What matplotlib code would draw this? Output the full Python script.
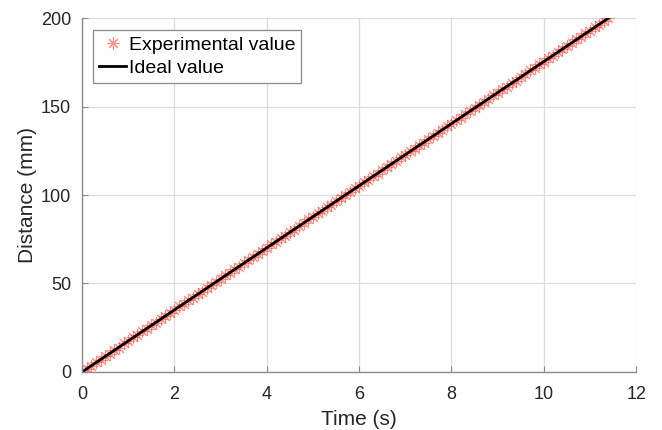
import numpy as np
import matplotlib
matplotlib.use('Agg')
from matplotlib import pyplot as plt

plt.rcParams['font.family'] = ['Liberation Sans', 'DejaVu Sans']

# measured samples
time_s = [0.0, 0.1, 0.2, 0.3, 0.4, 0.5, 0.6, 0.7, 0.8, 0.9,
          1.0, 1.1, 1.2, 1.3, 1.4, 1.5, 1.6, 1.7, 1.8, 1.9,
          2.0, 2.1, 2.2, 2.3, 2.4, 2.5, 2.6, 2.7, 2.8, 2.9,
          3.0, 3.1, 3.2, 3.3, 3.4, 3.5, 3.6, 3.7, 3.8, 3.9,
          4.0, 4.1, 4.2, 4.3, 4.4, 4.5, 4.6, 4.7, 4.8, 4.9,
          5.0, 5.1, 5.2, 5.3, 5.4, 5.5, 5.6, 5.7, 5.8, 5.9,
          6.0, 6.1, 6.2, 6.3, 6.4, 6.5, 6.6, 6.7, 6.8, 6.9,
          7.0, 7.1, 7.2, 7.3, 7.4, 7.5, 7.6, 7.7, 7.8, 7.9,
          8.0, 8.1, 8.2, 8.3, 8.4, 8.5, 8.6, 8.7, 8.8, 8.9,
          9.0, 9.1, 9.2, 9.3, 9.4, 9.5, 9.6, 9.7, 9.8, 9.9,
          10.0, 10.1, 10.2, 10.3, 10.4, 10.5, 10.6, 10.7, 10.8, 10.9,
          11.0, 11.1, 11.2, 11.3, 11.4]
dist_mm = [0.0, 1.9, 3.3, 5.5, 6.8, 9.0, 10.3, 12.6, 13.8, 16.1,
           17.3, 19.5, 20.9, 23.0, 24.4, 26.5, 27.9, 30.0, 31.4, 33.5,
           34.9, 37.0, 38.4, 40.5, 41.9, 44.0, 45.4, 47.5, 48.9, 51.1,
           52.4, 54.6, 56.0, 58.1, 59.5, 61.6, 63.0, 65.1, 66.5, 68.6,
           70.0, 72.1, 73.5, 75.6, 77.0, 79.1, 80.5, 82.7, 84.0, 86.2,
           87.5, 89.7, 91.0, 93.2, 94.6, 96.7, 98.1, 100.2, 101.6, 103.7,
           105.1, 107.2, 108.6, 110.7, 112.1, 114.2, 115.6, 117.7, 119.1, 121.3,
           122.6, 124.8, 126.1, 128.3, 129.6, 131.8, 133.2, 135.3, 136.7, 138.8,
           140.2, 142.3, 143.7, 145.8, 147.2, 149.3, 150.7, 152.8, 154.2, 156.4,
           157.7, 159.9, 161.2, 163.4, 164.7, 166.9, 168.2, 170.4, 171.8, 173.9,
           175.3, 177.4, 178.8, 180.9, 182.3, 184.4, 185.8, 187.9, 189.3, 191.4,
           192.8, 194.9, 196.3, 198.4, 200.0]

# ideal trajectory end points
ideal_t = [0.0, 11.4]
ideal_d = [0.0, 200.0]

fig = plt.figure(figsize=(6.62, 4.30), dpi=100)
ax = fig.add_axes([0.124, 0.135, 0.837, 0.823])

# 8-armed asterisk like the matlab '*' marker
ax.plot(time_s, dist_mm, linestyle='none', marker=(8, 2, 0), markersize=9,
        color='#ff4a3a', alpha=0.6, markeredgewidth=0.8, label='Experimental value')
ax.plot(ideal_t, ideal_d, color='black', linewidth=2, label='Ideal value')

ax.set_xlim(0, 12)
ax.set_ylim(0, 200)
ax.set_xticks([0, 2, 4, 6, 8, 10, 12])
ax.set_yticks([0, 50, 100, 150, 200])
ax.grid(True, color='#dcdcdc', linewidth=0.9)
ax.set_axisbelow(True)

for side in ['top', 'right']:
    ax.spines[side].set_visible(False)
for side in ['left', 'bottom']:
    ax.spines[side].set_color('#8a8a8a')
    ax.spines[side].set_linewidth(1.0)

ax.tick_params(direction='in', length=4, color='#8a8a8a', labelsize=13,
               labelcolor='#262626')
ax.tick_params(axis='x', pad=10)
ax.tick_params(axis='y', pad=8)
ax.set_xlabel('Time (s)', fontsize=15, color='#262626', labelpad=5)
ax.set_ylabel('Distance (mm)', fontsize=15, color='#262626', labelpad=3)

leg = ax.legend(loc='upper left', bbox_to_anchor=(0.02, 0.966), fontsize=14,
                handlelength=1.4, handletextpad=0.15, borderpad=0.3,
                labelspacing=0.3, fancybox=False, framealpha=1, borderaxespad=0)
leg.get_frame().set_edgecolor('#8a8a8a')
leg.get_frame().set_linewidth(0.9)

fig.savefig('out.png', dpi=100)
